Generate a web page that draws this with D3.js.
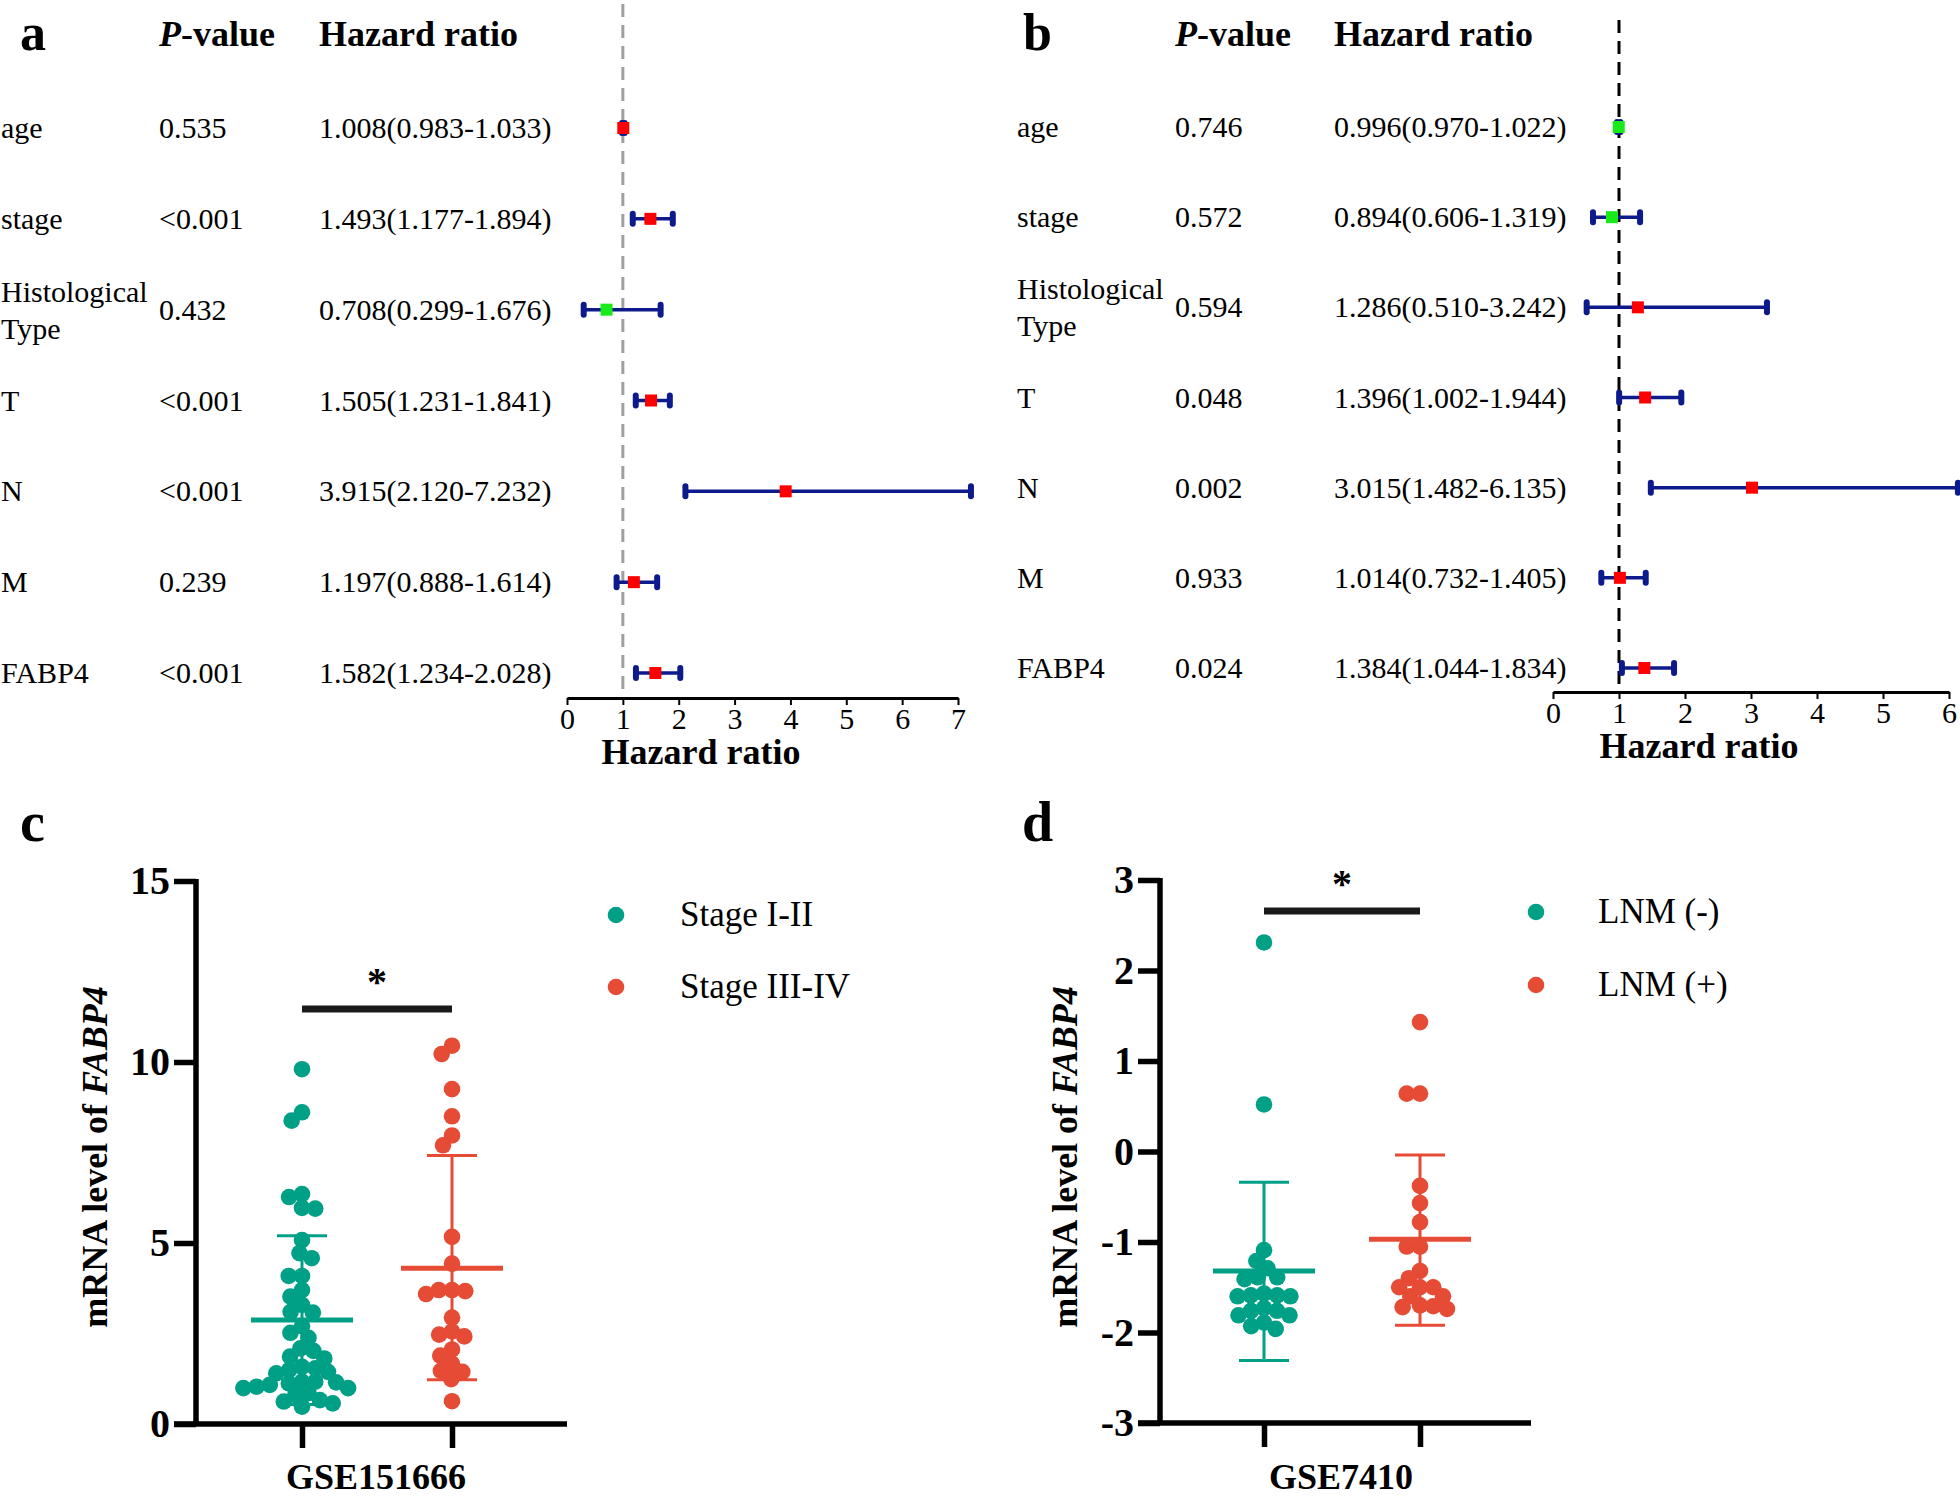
<!DOCTYPE html>
<html><head><meta charset="utf-8">
<script src="https://cdn.jsdelivr.net/npm/d3@7"></script>
<style>
body{margin:0;background:#fff}
svg{display:block}
text{font-family:"Liberation Serif","Times New Roman",serif;fill:#000}
</style>
</head><body>
<svg id="fig" width="1960" height="1500"></svg>
<script>
// ---------------- DATA ----------------
const variables = ["age", "stage", "Histological Type", "T", "N", "M", "FABP4"];

// panel a (univariate)
const pValuesA = ["0.535", "<0.001", "0.432", "<0.001", "<0.001", "0.239", "<0.001"];
const hrA = [1.008, 1.493, 0.708, 1.505, 3.915, 1.197, 1.582];
const lowerA = [0.983, 1.177, 0.299, 1.231, 2.120, 0.888, 1.234];
const upperA = [1.033, 1.894, 1.676, 1.841, 7.232, 1.614, 2.028];
const ticksA = [0, 1, 2, 3, 4, 5, 6, 7];

// panel b (multivariate)
const pValuesB = ["0.746", "0.572", "0.594", "0.048", "0.002", "0.933", "0.024"];
const hrB = [0.996, 0.894, 1.286, 1.396, 3.015, 1.014, 1.384];
const lowerB = [0.970, 0.606, 0.510, 1.002, 1.482, 0.732, 1.044];
const upperB = [1.022, 1.319, 3.242, 1.944, 6.135, 1.405, 1.834];
const ticksB = [0, 1, 2, 3, 4, 5, 6];

// panel c (GSE151666)
const groupsC = ["Stage I-II", "Stage III-IV"];
const stageIandII = [9.80, 8.61, 8.38, 6.35, 6.27, 5.95, 5.97, 5.08, 4.72, 4.58, 4.09, 4.09, 3.70, 3.52,
  3.29, 3.10, 3.08, 2.70, 2.52, 2.38, 2.09, 2.02, 1.86, 1.81, 1.58, 1.54, 1.44, 1.49, 1.40, 1.08, 0.99,
  1.17, 1.03, 1.17, 1.12, 0.99, 1.15, 0.85, 0.66, 0.80, 0.57, 0.48, 0.62];
const stageIIIandIV = [10.45, 10.22, 9.25, 8.50, 7.97, 7.70, 5.17, 4.43, 3.70, 3.59, 3.70, 3.67, 2.94,
  2.47, 2.42, 2.56, 2.06, 1.89, 1.44, 1.67, 1.47, 1.24, 0.63];
const meanC = [2.87, 4.30];
const sdUpperC = [5.20, 7.42];
const sdLowerC = [0.54, 1.22];
const ticksC = [0, 5, 10, 15];
const datasetC = "GSE151666";

// panel d (GSE7410)
const groupsD = ["LNM (-)", "LNM (+)"];
const lnmNeg = [2.31, 0.52, -1.09, -1.21, -1.29, -1.39, -1.39, -1.41, -1.60, -1.59, -1.57, -1.60, -1.59,
  -1.76, -1.76, -1.73, -1.81, -1.81, -1.89, -1.93, -1.96];
const lnmPos = [1.43, 0.64, 0.64, -0.38, -0.57, -0.78, -1.05, -1.05, -1.32, -1.40, -1.50, -1.50, -1.60,
  -1.60, -1.50, -1.72, -1.70, -1.74, -1.71];
const meanD = [-1.32, -0.97];
const sdUpperD = [-0.34, -0.04];
const sdLowerD = [-2.31, -1.92];
const ticksD = [-3, -2, -1, 0, 1, 2, 3];
const datasetD = "GSE7410";

// ---------------- STYLE ----------------
const TEAL = "#00A087", RED = "#E64B35", NAVY = "#0d1a8c";
const SQ_RED = "#ff0000", SQ_GREEN = "#19ea19";
const svg = d3.select("#fig");

// ---------------- FOREST PLOTS ----------------
function forest(o) {
  const g = svg.append("g");
  const x = d3.scaleLinear().domain([o.ticks[0], o.ticks[o.ticks.length - 1]]).range(o.xRange);
  const y = d3.scalePoint().domain(variables).range(o.yRange);

  g.append("text").attr("x", o.letterX).attr("y", o.letterY).attr("font-size", 52)
    .attr("font-weight", "bold").text(o.letter);
  const ph = g.append("text").attr("x", o.pX).attr("y", o.headY).attr("font-size", 36).attr("font-weight", "bold");
  ph.append("tspan").attr("font-style", "italic").text("P");
  ph.append("tspan").text("-value");
  g.append("text").attr("x", o.hrX).attr("y", o.headY).attr("font-size", 36).attr("font-weight", "bold")
    .text("Hazard ratio");

  variables.forEach((v, i) => {
    const cy = y(v);
    const parts = v.split(" ");
    if (parts.length > 1) {
      const t = g.append("text").attr("x", o.labelX).attr("font-size", 30);
      t.append("tspan").attr("x", o.labelX).attr("y", cy - 8).text(parts[0]);
      t.append("tspan").attr("x", o.labelX).attr("y", cy + 29).text(parts.slice(1).join(" "));
    } else {
      g.append("text").attr("x", o.labelX).attr("y", cy + 10).attr("font-size", 30).text(v);
    }
    g.append("text").attr("x", o.pX).attr("y", cy + 10).attr("font-size", 30).text(o.p[i]);
    g.append("text").attr("x", o.hrX).attr("y", cy + 10).attr("font-size", 30)
      .text(`${o.hr[i].toFixed(3)}(${o.lo[i].toFixed(3)}-${o.hi[i].toFixed(3)})`);
  });

  // reference line at HR = 1
  g.append("line").attr("x1", x(1)).attr("x2", x(1)).attr("y1", o.dashTop).attr("y2", o.axisY)
    .attr("stroke", o.dashColor).attr("stroke-width", 3).attr("stroke-dasharray", "13,8");

  // CI bars
  const rows = g.selectAll("g.row").data(variables).join("g").attr("class", "row");
  rows.append("line").attr("x1", (d, i) => x(o.lo[i])).attr("x2", (d, i) => x(o.hi[i]))
    .attr("y1", d => y(d)).attr("y2", d => y(d)).attr("stroke", NAVY).attr("stroke-width", 3.5);
  ["lo", "hi"].forEach(k => {
    rows.append("line").attr("x1", (d, i) => x(o[k][i])).attr("x2", (d, i) => x(o[k][i]))
      .attr("y1", d => y(d) - 5).attr("y2", d => y(d) + 5)
      .attr("stroke", NAVY).attr("stroke-width", 6).attr("stroke-linecap", "round");
  });
  rows.append("rect").attr("x", (d, i) => x(o.hr[i]) - 6).attr("y", d => y(d) - 6)
    .attr("width", 12).attr("height", 12)
    .attr("fill", (d, i) => o.hr[i] < 1 ? SQ_GREEN : SQ_RED);

  // axis
  const ax = g.append("g").attr("transform", `translate(0,${o.axisY})`)
    .call(d3.axisBottom(x).tickValues(o.ticks).tickFormat(d3.format("d"))
      .tickSize(7).tickPadding(3).tickSizeOuter(0));
  ax.select(".domain").attr("stroke-width", 3);
  ax.selectAll(".tick line").attr("stroke-width", 2);
  ax.selectAll(".tick text").attr("font-size", 30).attr("font-family", "Liberation Serif");
  g.append("text").attr("x", o.titleX).attr("y", o.axisY + 66).attr("text-anchor", "middle")
    .attr("font-size", 36).attr("font-weight", "bold").text("Hazard ratio");
}

forest({
  letter: "a", letterX: 20, letterY: 50, headY: 46, labelX: 1, pX: 159, hrX: 319,
  p: pValuesA, hr: hrA, lo: lowerA, hi: upperA, ticks: ticksA,
  xRange: [567, 958], yRange: [128, 673], axisY: 698, dashTop: 4, dashColor: "#a0a0a0", titleX: 701
});
forest({
  letter: "b", letterX: 1023, letterY: 50, headY: 46, labelX: 1017, pX: 1175, hrX: 1334,
  p: pValuesB, hr: hrB, lo: lowerB, hi: upperB, ticks: ticksB,
  xRange: [1553, 1949], yRange: [127, 668], axisY: 692, dashTop: 20, dashColor: "#000", titleX: 1699
});

// ---------------- DOT PLOTS ----------------
function swarm(values, y, minDist) {
  const order = d3.range(values.length).sort((i, j) => values[j] - values[i]);
  const placed = [], off = new Array(values.length);
  for (const i of order) {
    const yi = y(values[i]);
    const iv = [];
    for (const p of placed) {
      const dy = Math.abs(p.y - yi);
      if (dy < minDist) { const w = Math.sqrt(minDist * minDist - dy * dy); iv.push([p.x - w, p.x + w]); }
    }
    const cands = [0];
    iv.forEach(([a, b]) => cands.push(a, b));
    cands.sort((a, b) => Math.abs(a) - Math.abs(b) || a - b);
    let xo = 0;
    for (const c of cands) {
      if (iv.every(([a, b]) => c <= a + 1e-6 || c >= b - 1e-6)) { xo = c; break; }
    }
    placed.push({ x: xo, y: yi });
    off[i] = xo;
  }
  return off;
}

function dotPlot(o) {
  const g = svg.append("g");
  const y = d3.scaleLinear().domain([o.ticks[0], o.ticks[o.ticks.length - 1]]).range(o.yRange);
  const x = d3.scalePoint().domain(o.groups).range(o.xRange);
  const colors = [TEAL, RED];
  const R = 8.3;

  g.append("text").attr("x", o.letterX).attr("y", o.letterY).attr("font-size", 56)
    .attr("font-weight", "bold").text(o.letter);

  // axes
  const ya = g.append("g").attr("transform", `translate(${o.axisX},0)`)
    .call(d3.axisLeft(y).tickValues(o.ticks).tickSize(22).tickPadding(4).tickSizeOuter(0)
      .tickFormat(d => String(d)));
  ya.selectAll(".tick line").attr("stroke-width", 5.5);
  ya.selectAll(".tick text").attr("font-size", 40).attr("font-weight", "bold")
    .attr("font-family", "Liberation Serif");
  ya.select(".domain").attr("d", `M0,${o.yRange[1] - 2}V${o.yRange[0]}`).attr("stroke-width", 5.5);

  const xa = g.append("g").attr("transform", `translate(0,${o.yRange[0]})`)
    .call(d3.axisBottom(x).tickSize(24).tickFormat("").tickSizeOuter(0));
  xa.select(".domain").attr("d", `M${o.axisX - 22},0H${o.axisEnd}`).attr("stroke-width", 5.5);
  xa.selectAll(".tick line").attr("stroke-width", 5.5);

  // y title
  const yt = g.append("text").attr("transform", `translate(${o.titleX},${o.titleY}) rotate(-90)`)
    .attr("text-anchor", "middle").attr("font-size", 36).attr("font-weight", "bold");
  yt.append("tspan").text("mRNA level of ");
  yt.append("tspan").attr("font-style", "italic").text("FABP4");

  // x title
  g.append("text").attr("x", (x(o.groups[0]) + x(o.groups[1])) / 2 - 1).attr("y", 1489)
    .attr("text-anchor", "middle").attr("font-size", 36).attr("font-weight", "bold").text(o.dataset);

  // points
  o.series.forEach((vals, gi) => {
    const cx = x(o.groups[gi]);
    const off = swarm(vals, y, R * 1.6);
    g.append("g").selectAll("circle").data(vals).join("circle")
      .attr("cx", (d, i) => cx + off[i]).attr("cy", d => y(d)).attr("r", R).attr("fill", colors[gi]);
    // mean & SD
    g.append("line").attr("x1", cx).attr("x2", cx).attr("y1", y(o.sdUp[gi])).attr("y2", y(o.sdLo[gi]))
      .attr("stroke", colors[gi]).attr("stroke-width", 3);
    [o.sdUp[gi], o.sdLo[gi]].forEach(v => {
      g.append("line").attr("x1", cx - 25).attr("x2", cx + 25).attr("y1", y(v)).attr("y2", y(v))
        .attr("stroke", colors[gi]).attr("stroke-width", 3);
    });
    g.append("line").attr("x1", cx - 51).attr("x2", cx + 51).attr("y1", y(o.mean[gi])).attr("y2", y(o.mean[gi]))
      .attr("stroke", colors[gi]).attr("stroke-width", 5);
  });

  // significance
  g.append("line").attr("x1", x(o.groups[0])).attr("x2", x(o.groups[1])).attr("y1", o.sigY).attr("y2", o.sigY)
    .attr("stroke", "#1a1a1a").attr("stroke-width", 7);
  g.append("text").attr("x", (x(o.groups[0]) + x(o.groups[1])) / 2).attr("y", o.starY)
    .attr("text-anchor", "middle").attr("font-size", 40).attr("font-weight", "bold").text("*");

  // legend
  o.groups.forEach((name, gi) => {
    g.append("circle").attr("cx", o.legX).attr("cy", o.legY[gi]).attr("r", R).attr("fill", colors[gi]);
    g.append("text").attr("x", o.legTextX).attr("y", o.legY[gi] + 11).attr("font-size", 35).text(name);
  });
}

dotPlot({
  letter: "c", letterX: 20, letterY: 841, groups: groupsC, series: [stageIandII, stageIIIandIV],
  mean: meanC, sdUp: sdUpperC, sdLo: sdLowerC, ticks: ticksC, dataset: datasetC,
  yRange: [1424, 881], xRange: [302, 452], axisX: 196, axisEnd: 567,
  titleX: 107, titleY: 1157, sigY: 1009, starY: 995,
  legX: 616, legY: [915, 987], legTextX: 680
});
dotPlot({
  letter: "d", letterX: 1022, letterY: 841, groups: groupsD, series: [lnmNeg, lnmPos],
  mean: meanD, sdUp: sdUpperD, sdLo: sdLowerD, ticks: ticksD, dataset: datasetD,
  yRange: [1423, 880], xRange: [1264, 1420], axisX: 1160, axisEnd: 1531,
  titleX: 1077, titleY: 1157, sigY: 911, starY: 897,
  legX: 1536, legY: [912, 985], legTextX: 1598
});
</script>
</body></html>
